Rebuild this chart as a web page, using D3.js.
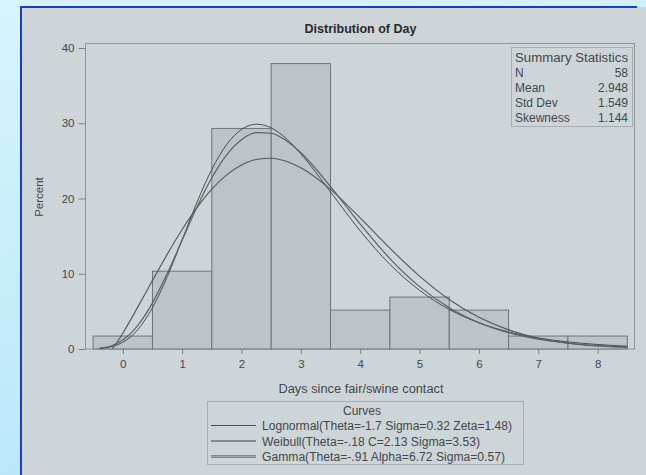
<!DOCTYPE html>
<html><head><meta charset="utf-8">
<script src="https://cdn.jsdelivr.net/npm/d3@7"></script>
<style>html,body{margin:0;padding:0;overflow:hidden;background:#cdf0fc}</style>
</head><body><svg id="c" width="646" height="475"></svg>
<script>
// ---- data ----
const days = [0, 1, 2, 3, 4, 5, 6, 7, 8];
const percent = [1.72, 10.34, 29.31, 37.93, 5.17, 6.90, 5.17, 1.72, 1.72];
const yTicks = [0, 10, 20, 30, 40];
const curveX = [-0.4,-0.25,-0.18,-0.1,0,0.25,0.5,0.75,1,1.25,1.5,1.75,2,2.25,2.5,2.75,3,3.5,4,4.5,5,5.5,6,6.5,7,7.5,8,8.5];
const lognormal = [0.07,0.21,0.34,0.54,0.90,2.55,5.49,9.63,14.52,19.49,23.87,27.17,29.18,29.87,29.39,27.99,25.94,20.87,15.70,11.26,7.80,5.26,3.48,2.27,1.47,0.94,0.60,0.38];
const weibull = [null,null,0,0.84,2.09,5.53,9.10,12.61,15.88,18.78,21.23,23.13,24.46,25.19,25.35,24.95,24.08,21.21,17.42,13.40,9.68,6.58,4.21,2.54,1.44,0.77,0.39,0.19];
const gamma = [0.09,0.30,0.47,0.74,1.20,3.11,6.13,10.06,14.47,18.86,22.76,25.81,27.82,28.75,28.67,27.71,26.08,21.59,16.60,12.02,8.29,5.49,3.51,2.18,1.32,0.78,0.45,0.26];
const curveNames = ["Lognormal(Theta=-1.7 Sigma=0.32 Zeta=1.48)", "Weibull(Theta=-.18 C=2.13 Sigma=3.53)", "Gamma(Theta=-.91 Alpha=6.72 Sigma=0.57)"];
const statLabels = ["N", "Mean", "Std Dev", "Skewness"];
const statValues = ["58", "2.948", "1.549", "1.144"];

const svg = d3.select("#c");
const font = "'Liberation Sans', Arial, sans-serif";
const txt = "#44484b";

// background
const defs = svg.append("defs");
const g1 = defs.append("linearGradient").attr("id","bg").attr("x1",0).attr("y1",0).attr("x2",0.3).attr("y2",1);
g1.append("stop").attr("offset",0).attr("stop-color","#d6f4fe");
g1.append("stop").attr("offset",0.6).attr("stop-color","#c6ecfb");
g1.append("stop").attr("offset",1).attr("stop-color","#b6e6fa");
svg.append("rect").attr("width",646).attr("height",475).attr("fill","url(#bg)");

// panel
svg.append("rect").attr("x",21).attr("y",7).attr("width",630).attr("height",470).attr("fill","#cdd5d8");
svg.append("line").attr("x1",21).attr("x2",21).attr("y1",6).attr("y2",475).attr("stroke","#1c3fb4").attr("stroke-width",2);
svg.append("line").attr("x1",20).attr("x2",637).attr("y1",7).attr("y2",7).attr("stroke","#1c3fb4").attr("stroke-width",2);

// scales
const x = d3.scaleLinear().domain([-0.62, 8.63]).range([86, 635]);
const y = d3.scaleLinear().domain([0, 40]).range([349, 48]);

// title
svg.append("text").attr("x",360.5).attr("y",33).attr("text-anchor","middle")
  .attr("font-family",font).attr("font-size",12.5).attr("font-weight","bold").attr("fill","#2a2a2a")
  .text("Distribution of Day");

// frame
svg.append("rect").attr("x",85.5).attr("y",43.5).attr("width",549).attr("height",305.5)
  .attr("fill","#cdd5d8").attr("stroke","#8f979b").attr("stroke-width",1);

// bars
svg.append("g").selectAll("rect").data(days).join("rect")
  .attr("x", d => x(d - 0.5))
  .attr("width", d => x(d + 0.5) - x(d - 0.5))
  .attr("y", (d,i) => y(percent[i]))
  .attr("height", (d,i) => y(0) - y(percent[i]))
  .attr("fill","#bcc4c8").attr("stroke","#6e7478").attr("stroke-width",1);

// curves
const curveSeries = [lognormal, weibull, gamma];
const curveColors = ["#4a4d50", "#55585b", "#5e6164"];
const curveWidths = [1, 1.1, 1.2];
curveSeries.forEach((vals, k) => {
  const line = d3.line()
    .defined((d,i) => vals[i] !== null)
    .x(d => x(d)).y((d,i) => y(vals[i]))
    .curve(d3.curveMonotoneX);
  svg.append("path").attr("d", line(curveX)).attr("fill","none")
    .attr("stroke", curveColors[k]).attr("stroke-width", curveWidths[k]);
});

// axes
const ya = svg.append("g").attr("transform","translate(85.5,0)")
  .call(d3.axisLeft(y).tickValues(yTicks).tickSize(7).tickPadding(4));
const xa = svg.append("g").attr("transform","translate(0,349)")
  .call(d3.axisBottom(x).tickValues(days).tickSize(5).tickPadding(6));
[ya, xa].forEach(a => {
  a.select(".domain").remove();
  a.selectAll("line").attr("stroke","#7c8387");
  a.selectAll("text").attr("font-family",font).attr("font-size",11.5).attr("fill",txt);
});

// axis labels
svg.append("text").attr("transform","translate(43,197) rotate(-90)").attr("text-anchor","middle")
  .attr("font-family",font).attr("font-size",11.5).attr("fill",txt).text("Percent");
svg.append("text").attr("x",361).attr("y",392.5).attr("text-anchor","middle")
  .attr("font-family",font).attr("font-size",12).attr("fill",txt)
  .attr("textLength",165).attr("lengthAdjust","spacingAndGlyphs").text("Days since fair/swine contact");

// summary statistics box
svg.append("rect").attr("x",511.5).attr("y",47.5).attr("width",121).attr("height",79)
  .attr("fill","none").attr("stroke","#a7aeb2");
svg.append("text").attr("x",515).attr("y",61.5).attr("font-family",font).attr("font-size",12.5)
  .attr("fill",txt).attr("textLength",113).attr("lengthAdjust","spacingAndGlyphs").text("Summary Statistics");
statLabels.forEach((s,i) => {
  svg.append("text").attr("x",515).attr("y",76.5 + i*15.3).attr("font-family",font).attr("font-size",12)
    .attr("fill",txt).text(s);
  svg.append("text").attr("x",628).attr("y",76.5 + i*15.3).attr("text-anchor","end").attr("font-family",font).attr("font-size",12)
    .attr("fill",txt).text(statValues[i]);
});

// legend
svg.append("rect").attr("x",207.5).attr("y",401.5).attr("width",316).attr("height",63)
  .attr("fill","none").attr("stroke","#a7aeb2");
svg.append("text").attr("x",362).attr("y",414.5).attr("text-anchor","middle").attr("font-family",font)
  .attr("font-size",12).attr("fill",txt).text("Curves");
const legendLens = [250, 218, 243];
const legendStroke = ["#4a4d50", "#6c7074", "#6c7074"];
curveNames.forEach((n,i) => {
  const yy = 425.5 + i*15.5;
  svg.append("line").attr("x1",211).attr("x2",256).attr("y1",yy).attr("y2",yy)
    .attr("stroke",legendStroke[i]).attr("stroke-width",[1.1,1.6,2.6][i]);
  if (i === 2) svg.append("line").attr("x1",211).attr("x2",256).attr("y1",yy).attr("y2",yy)
    .attr("stroke","#a4abaf").attr("stroke-width",0.9);
  svg.append("text").attr("x",262).attr("y",yy + 4.5).attr("font-family",font).attr("font-size",12.5)
    .attr("fill",txt).attr("textLength",legendLens[i]).attr("lengthAdjust","spacingAndGlyphs").text(n);
});
</script></body></html>
